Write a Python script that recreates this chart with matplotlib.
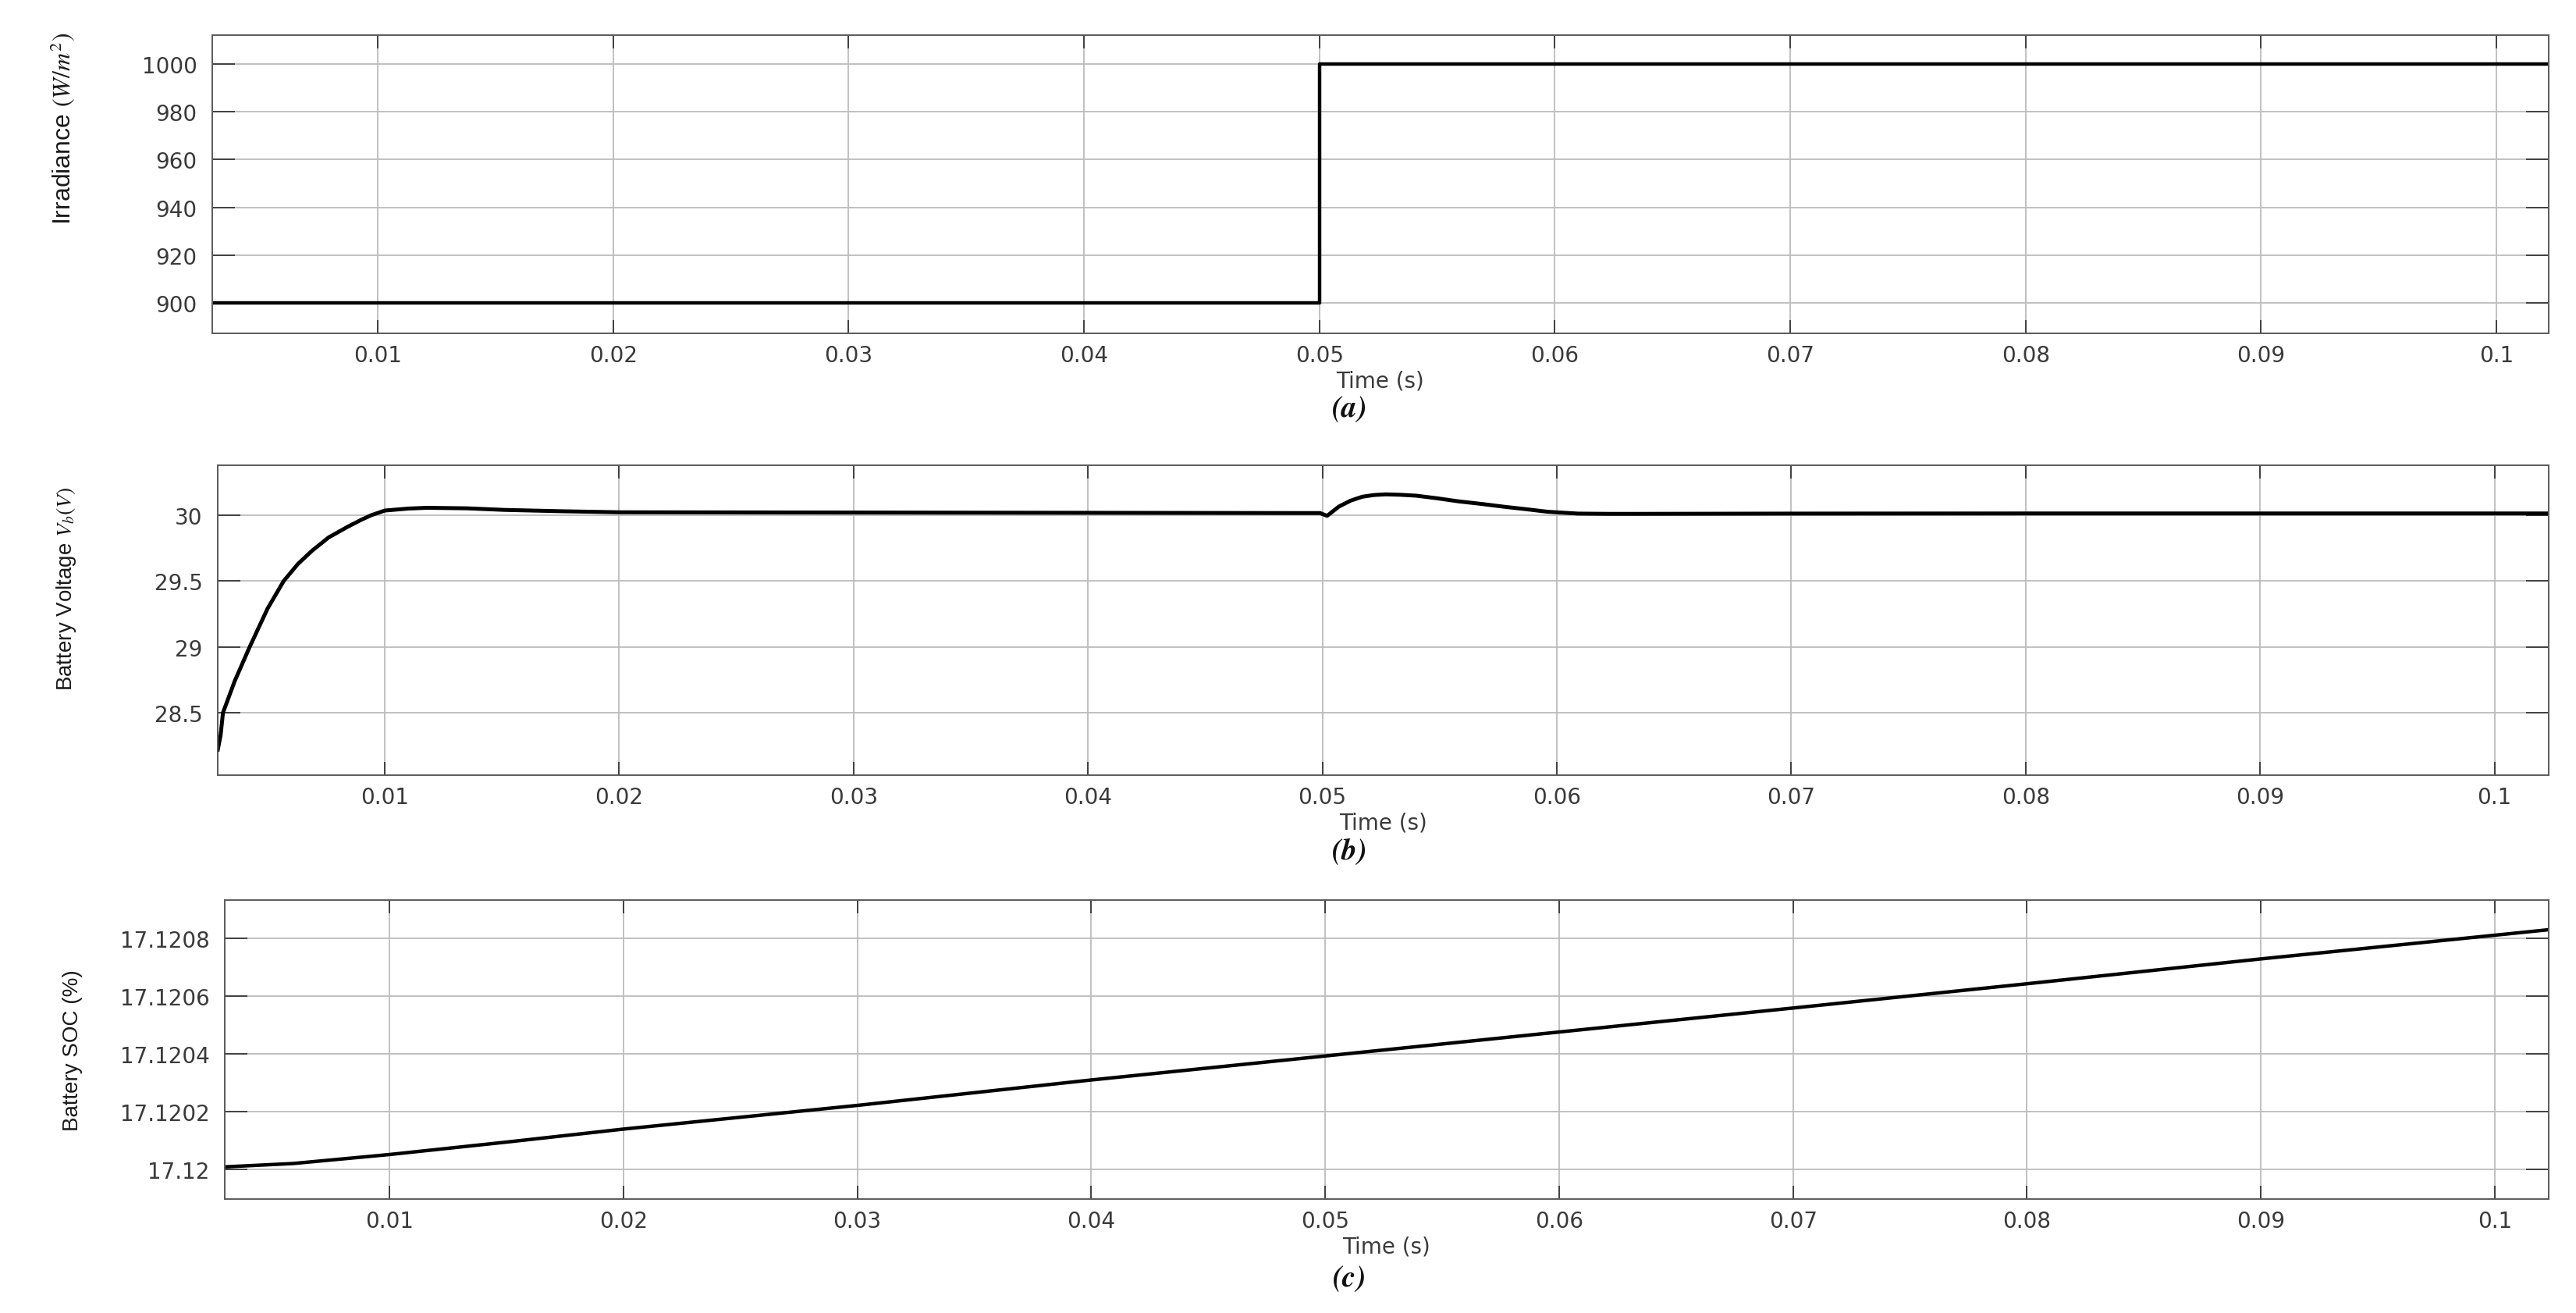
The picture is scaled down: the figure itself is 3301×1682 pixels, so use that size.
import matplotlib.pyplot as plt

plt.rcParams['mathtext.fontset'] = 'stix'

# ---- data ----
time_ticks = [0.01, 0.02, 0.03, 0.04, 0.05, 0.06, 0.07, 0.08, 0.09, 0.1]
time_tick_labels = ['0.01', '0.02', '0.03', '0.04', '0.05', '0.06', '0.07', '0.08', '0.09', '0.1']

# (a) irradiance step
t_irr = [0.0029, 0.05, 0.05, 0.1023]
irr = [900, 900, 1000, 1000]
irr_ticks = [900, 920, 940, 960, 980, 1000]
irr_tick_labels = ['900', '920', '940', '960', '980', '1000']

# (b) battery voltage
t_vb = [0.00288, 0.00300, 0.00310, 0.00360, 0.00424, 0.00500, 0.00569, 0.00630, 0.00690,
        0.00760, 0.00840, 0.00900, 0.00943, 0.01000, 0.01100, 0.01180, 0.01350, 0.01510,
        0.01750, 0.02000, 0.03000, 0.04000, 0.04900, 0.04990, 0.05020, 0.05070, 0.05120,
        0.05170, 0.05220, 0.05270, 0.05330, 0.05400, 0.05490, 0.05580, 0.05680, 0.05770,
        0.05870, 0.05960, 0.06090, 0.06220, 0.06340, 0.07000, 0.08000, 0.09000, 0.10235]
vb = [28.22, 28.33, 28.50, 28.74, 29.00, 29.29, 29.50, 29.63, 29.73,
      29.83, 29.91, 29.965, 30.00, 30.035, 30.050, 30.056, 30.052, 30.040,
      30.030, 30.022, 30.020, 30.018, 30.016, 30.016, 29.995, 30.065, 30.110,
      30.140, 30.153, 30.158, 30.155, 30.148, 30.128, 30.105, 30.085, 30.065,
      30.045, 30.026, 30.012, 30.010, 30.010, 30.012, 30.013, 30.013, 30.013]
vb_ticks = [28.5, 29, 29.5, 30]
vb_tick_labels = ['28.5', '29', '29.5', '30']

# (c) battery SOC
t_soc = [0.0029, 0.0059, 0.0100, 0.0150, 0.0200, 0.0300, 0.0400, 0.0500,
         0.0600, 0.0700, 0.0800, 0.0900, 0.1000, 0.10230]
soc = [17.120009, 17.120021, 17.120052, 17.120095, 17.120140, 17.120222, 17.120310,
       17.120393, 17.120476, 17.120559, 17.120643, 17.120729, 17.120811, 17.120830]
soc_ticks = [17.12, 17.1202, 17.1204, 17.1206, 17.1208]
soc_tick_labels = ['17.12', '17.1202', '17.1204', '17.1206', '17.1208']

W, H = 3301, 1683
fig = plt.figure(figsize=(W / 100, H / 100), dpi=100)
fig.patch.set_facecolor('white')


def make_axes(left, top, right, bottom):
    return fig.add_axes([left / W, 1 - bottom / H, (right - left) / W, (bottom - top) / H])


def style(ax, xlim, ylim, yticks, ylabels):
    ax.set_xlim(*xlim)
    ax.set_ylim(*ylim)
    ax.set_xticks(time_ticks)
    ax.set_xticklabels(time_tick_labels)
    ax.set_yticks(yticks)
    ax.set_yticklabels(ylabels)
    ax.grid(True, color='#bcbcbc', lw=1.3)
    ax.set_axisbelow(True)
    ax.tick_params(direction='in', top=True, right=True, color='#404040', width=1.4,
                   labelcolor='#3a3a3a', labelsize=20)
    ax.tick_params(axis='x', length=12, pad=10)
    ax.tick_params(axis='y', length=21, pad=14)
    for lab in ax.get_xticklabels() + ax.get_yticklabels():
        lab.set_family('DejaVu Sans')
    for s in ax.spines.values():
        s.set_color('#5a5a5a')
        s.set_linewidth(1.4)


# (a)
ax1 = make_axes(272, 46, 3266, 428)
ax1.plot(t_irr, irr, color='black', lw=3.2)
style(ax1, (0.002972, 0.102221), (887.4, 1012), irr_ticks, irr_tick_labels)
ax1.set_ylabel(r'Irradiance $(W/m^2)$', fontsize=23, family='Liberation Sans',
               color='#1a1a1a', ha='center', va='center')
ax1.yaxis.set_label_coords(-0.0638, 0.6885)
ax1.set_xlabel('Time (s)', fontsize=20, family='DejaVu Sans', color='#3a3a3a', va='center')
ax1.xaxis.set_label_coords(0.5, -60 / 382)

# (b)
ax2 = make_axes(279, 597, 3266, 994)
ax2.plot(t_vb, vb, color='black', lw=3.6)
style(ax2, (0.002876, 0.102310), (28.026, 30.379), vb_ticks, vb_tick_labels)
ax2.set_ylabel(r'Battery Voltage $V_b(V)$', fontsize=20, family='Liberation Sans',
               color='#1a1a1a', ha='center', va='center')
ax2.yaxis.set_label_coords(-0.0649, 0.6045)
ax2.set_xlabel('Time (s)', fontsize=20, family='DejaVu Sans', color='#3a3a3a', va='center')
ax2.xaxis.set_label_coords(0.5, -61 / 397)

# (c)
ax3 = make_axes(288, 1153.5, 3266, 1537)
ax3.plot(t_soc, soc, color='black', lw=3.2)
style(ax3, (0.002961, 0.102302), (17.119898, 17.120934), soc_ticks, soc_tick_labels)
ax3.set_ylabel('Battery SOC (%)', fontsize=20, family='Liberation Sans',
               color='#1a1a1a', ha='center', va='center')
ax3.yaxis.set_label_coords(-0.0655, 0.498)
ax3.set_xlabel('Time (s)', fontsize=20, family='DejaVu Sans', color='#3a3a3a', va='center')
ax3.xaxis.set_label_coords(0.5, -61 / 383.5)

# sub-figure captions
for letter, ypx in [('a', 524), ('b', 1091), ('c', 1638)]:
    fig.text(1730 / W, 1 - ypx / H, '(%s)' % letter, fontsize=28, family='STIXGeneral',
             style='italic', weight='bold', ha='center', va='center', color='#111111')

fig.savefig('out.png', dpi=100, facecolor='white')
